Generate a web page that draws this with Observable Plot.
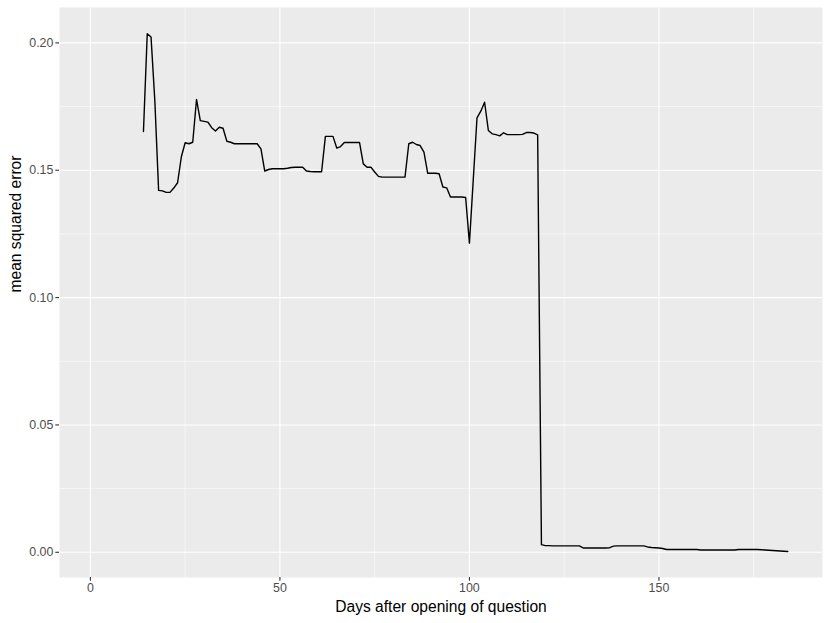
<!DOCTYPE html>
<html>
<head>
<meta charset="utf-8">
<script src="https://cdn.jsdelivr.net/npm/d3@7"></script>
<script src="https://cdn.jsdelivr.net/npm/@observablehq/plot@0.6"></script>
<style>
  html, body { margin: 0; padding: 0; background: #ffffff; }
  #chart { width: 830px; height: 623px; }
</style>
</head>
<body>
<div id="chart"></div>
<script>
// ---- Data ----
const days = [
  14, 15, 16, 17, 18, 19, 20, 21, 22, 23, 24, 25, 26, 27, 28, 29, 30, 31, 32, 33,
  34, 35, 36, 37, 38, 39, 40, 41, 42, 43, 44, 45, 46, 47, 48, 49, 50, 51, 52, 53,
  54, 55, 56, 57, 58, 59, 60, 61, 62, 63, 64, 65, 66, 67, 68, 69, 70, 71, 72, 73,
  74, 75, 76, 77, 78, 79, 80, 81, 82, 83, 84, 85, 86, 87, 88, 89, 90, 91, 92, 93,
  94, 95, 96, 97, 98, 99, 100, 101, 102, 103, 104, 105, 106, 107, 108, 109, 110, 111, 112, 113,
  114, 115, 116, 117, 118, 119, 120, 121, 122, 123, 124, 125, 126, 127, 128, 129, 130, 131, 132, 133,
  134, 135, 136, 137, 138, 139, 140, 141, 142, 143, 144, 145, 146, 147, 148, 149, 150, 151, 152, 153,
  154, 155, 156, 157, 158, 159, 160, 161, 162, 163, 164, 165, 166, 167, 168, 169, 170, 171, 172, 173,
  174, 175, 176, 177, 178, 179, 180, 181, 182, 183, 184
];
const mse = [
  0.1652, 0.2036, 0.2023, 0.1774, 0.1421, 0.1419, 0.1413, 0.1413, 0.1430, 0.1451,
  0.1553, 0.1608, 0.1604, 0.1610, 0.1778, 0.1695, 0.1692, 0.1689, 0.1667, 0.1654,
  0.1669, 0.1665, 0.1614, 0.1610, 0.1604, 0.1604, 0.1604, 0.1604, 0.1604, 0.1604,
  0.1604, 0.1584, 0.1497, 0.1503, 0.1506, 0.1506, 0.1506, 0.1506, 0.1508, 0.1511,
  0.1512, 0.1512, 0.1512, 0.1497, 0.1495, 0.1494, 0.1494, 0.1494, 0.1633, 0.1633,
  0.1633, 0.1587, 0.1593, 0.1609, 0.1609, 0.1609, 0.1609, 0.1609, 0.1525, 0.1512,
  0.1512, 0.1493, 0.1476, 0.1473, 0.1473, 0.1473, 0.1473, 0.1473, 0.1473, 0.1473,
  0.1604, 0.1610, 0.1601, 0.1597, 0.1571, 0.1488, 0.1488, 0.1488, 0.1486, 0.1434,
  0.1431, 0.1395, 0.1395, 0.1395, 0.1395, 0.1393, 0.1214, 0.1460, 0.1706, 0.1732,
  0.1767, 0.1656, 0.1643, 0.1640, 0.1635, 0.1647, 0.1640, 0.1640, 0.1640, 0.1640,
  0.1641, 0.1648, 0.1648, 0.1646, 0.1639, 0.0030, 0.0026, 0.0026, 0.0025, 0.0025,
  0.0025, 0.0025, 0.0025, 0.0025, 0.0025, 0.0025, 0.0017, 0.0017, 0.0017, 0.0017,
  0.0017, 0.0017, 0.0017, 0.0018, 0.0024, 0.0025, 0.0025, 0.0025, 0.0025, 0.0025,
  0.0025, 0.0025, 0.0025, 0.0021, 0.0019, 0.0018, 0.0017, 0.0015, 0.0011, 0.0011,
  0.0011, 0.0011, 0.0011, 0.0011, 0.0011, 0.0011, 0.0011, 0.0009, 0.0009, 0.0009,
  0.0009, 0.0009, 0.0009, 0.0009, 0.0009, 0.0009, 0.0009, 0.0011, 0.0011, 0.0011,
  0.0011, 0.0011, 0.0011, 0.0010, 0.0009, 0.0008, 0.0007, 0.0006, 0.0005, 0.0004,
  0.0003
];

const xMajor = [0, 50, 100, 150];
const xMinor = [25, 75, 125, 175];
const yMajor = [0, 0.05, 0.10, 0.15, 0.20];
const yMinor = [0.025, 0.075, 0.125, 0.175];
const xTitle = "Days after opening of question";
const yTitle = "mean squared error";

const table = days.map((d, i) => ({day: d, mse: mse[i]}));

const font = "'Liberation Sans', Arial, Helvetica, sans-serif";

const chart = Plot.plot({
  width: 830,
  height: 623,
  marginLeft: 59,
  marginRight: 8,
  marginTop: 7,
  marginBottom: 46,
  style: {background: "#ffffff", fontFamily: font},
  x: {domain: [-8.15, 193.15]},
  y: {domain: [-0.0099, 0.2139]},
  marks: [
    Plot.frame({fill: "#EBEBEB", stroke: "none"}),
    Plot.ruleX(xMinor, {stroke: "#ffffff", strokeWidth: 0.55}),
    Plot.ruleY(yMinor, {stroke: "#ffffff", strokeWidth: 0.55}),
    Plot.ruleX(xMajor, {stroke: "#ffffff", strokeWidth: 1.1}),
    Plot.ruleY(yMajor, {stroke: "#ffffff", strokeWidth: 1.1}),
    Plot.line(table, {x: "day", y: "mse", stroke: "#000000", strokeWidth: 1.4}),
    Plot.axisX(xMajor, {
      tickSize: 3.7, tickPadding: 2.4, fontSize: 12.4,
      stroke: "#333333", strokeWidth: 1.1, fill: "#4D4D4D",
      label: null, tickFormat: d3.format("d")
    }),
    Plot.axisY(yMajor, {
      tickSize: 3.7, tickPadding: 2.4, fontSize: 12.4,
      stroke: "#333333", strokeWidth: 1.1, fill: "#4D4D4D",
      label: null, tickFormat: d3.format(".2f")
    }),
    Plot.text([xTitle], {
      text: d => d, frameAnchor: "bottom", dy: 29,
      fontSize: 15.6, fill: "#000000", lineAnchor: "middle"
    }),
    Plot.text([yTitle], {
      text: d => d, frameAnchor: "left", dx: -44, rotate: -90,
      fontSize: 15.6, fill: "#000000", lineAnchor: "middle"
    })
  ]
});

document.getElementById("chart").appendChild(chart);
</script>
</body>
</html>
